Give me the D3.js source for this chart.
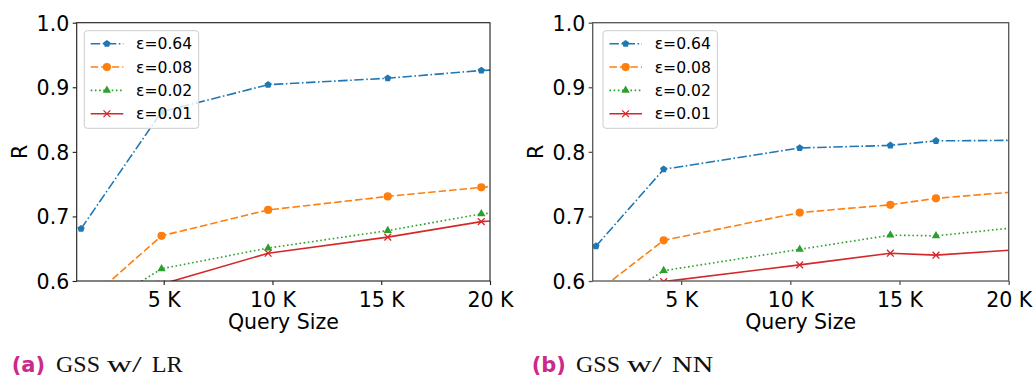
<!DOCTYPE html>
<html>
<head>
<meta charset="utf-8">
<script src="https://cdn.jsdelivr.net/npm/d3@7"></script>
<style>
  body { margin: 0; background: #fff; }
  svg { display: block; }
</style>
</head>
<body>
<svg id="fig" width="1036" height="379"></svg>
<script>
// ---- data ----
const seriesLabels = ["ε=0.64", "ε=0.08", "ε=0.02", "ε=0.01"];
const yTickValues = [0.6, 0.7, 0.8, 0.9, 1.0];
const xTickValues = [5000, 10000, 15000, 20000];
const xTickLabels = ["5 K", "10 K", "15 K", "20 K"];

// (a) GSS with logistic regression
const lrQuery   = [1200, 4900, 9800, 15300, 19600, 24000];
const lrEps064  = [0.681, 0.862, 0.904, 0.914, 0.926, 0.932];
const lrEps008  = [0.560, 0.670, 0.710, 0.731, 0.745, 0.756];
const lrEps002  = [0.541, 0.619, 0.651, 0.678, 0.704, 0.716];
const lrEps001  = [0.520, 0.595, 0.643, 0.668, 0.692, 0.703];

// (b) GSS with neural network
const nnQuery   = [1100, 4200, 10430, 14580, 16670, 21000];
const nnEps064  = [0.654, 0.773, 0.806, 0.810, 0.817, 0.818];
const nnEps008  = [0.582, 0.663, 0.706, 0.718, 0.728, 0.740];
const nnEps002  = [0.549, 0.616, 0.649, 0.671, 0.670, 0.685];
const nnEps001  = [0.530, 0.599, 0.625, 0.643, 0.640, 0.650];

// ---- styling ----
const seriesStyle = [
  { color: "#1f77b4", dash: "9.5,2.5,1.6,2.5", marker: "pentagon" },
  { color: "#ff7f0e", dash: "7.5,3",           marker: "circle" },
  { color: "#2ca02c", dash: "1.6,2.6",         marker: "triangle" },
  { color: "#d62728", dash: null,              marker: "x" }
];

const panels = [
  { id: "lr", query: lrQuery, series: [lrEps064, lrEps008, lrEps002, lrEps001],
    x0: 76.7, x1: 490, xMin: 1000, spine: "#1a1a1a", spineW: 1.1,
    tag: "(a)", tagX: 11.7, words: ["GSS", "w/", "LR"], wordX: 56, legendX: 84.3 },
  { id: "nn", query: nnQuery, series: [nnEps064, nnEps008, nnEps002, nnEps001],
    x0: 592.7, x1: 1008.7, xMin: 950, spine: "#555", spineW: 1.3,
    tag: "(b)", tagX: 531.7, words: ["GSS", "w/", "NN"], wordX: 576, legendX: 603 }
];

const plotTop = 22.7, plotBottom = 281;
const tickFont = "'DejaVu Sans', sans-serif";
const svg = d3.select("#fig");
svg.append("rect").attr("width", 1036).attr("height", 379).attr("fill", "#fff");

function drawMarker(g, type, cx, cy, color) {
  if (type === "circle") {
    g.append("circle").attr("cx", cx).attr("cy", cy).attr("r", 4.1).attr("fill", color);
  } else if (type === "pentagon") {
    const R = 3.8;
    const pts = d3.range(5).map(i => {
      const a = -Math.PI / 2 + i * 2 * Math.PI / 5;
      return [cx + R * Math.cos(a), cy + R * Math.sin(a)];
    });
    g.append("polygon").attr("points", pts.map(p => p.join(",")).join(" ")).attr("fill", color);
  } else if (type === "triangle") {
    g.append("path")
      .attr("d", d3.symbol().type(d3.symbolTriangle).size(30)())
      .attr("transform", `translate(${cx},${cy})`)
      .attr("fill", color);
  } else if (type === "x") {
    const h = 3.4;
    g.append("path")
      .attr("d", `M${cx - h},${cy - h}L${cx + h},${cy + h}M${cx - h},${cy + h}L${cx + h},${cy - h}`)
      .attr("stroke", color).attr("stroke-width", 1.3).attr("fill", "none");
  }
}

panels.forEach(p => {
  const x = d3.scaleLinear().domain([p.xMin, 20000]).range([p.x0, p.x1]);
  const y = d3.scaleLinear().domain([0.6, 1.0]).range([plotBottom, plotTop]);
  const g = svg.append("g");

  const clipId = "clip-" + p.id;
  g.append("clipPath").attr("id", clipId)
    .append("rect").attr("x", p.x0).attr("y", plotTop)
    .attr("width", p.x1 - p.x0).attr("height", plotBottom - plotTop);

  const plot = g.append("g").attr("clip-path", `url(#${clipId})`);
  const line = d3.line().x(d => x(d[0])).y(d => y(d[1]));

  // series drawn bottom-up so the top series sits above
  for (let s = p.series.length - 1; s >= 0; s--) {
    const st = seriesStyle[s];
    const pts = p.query.map((q, i) => [q, p.series[s][i]]);
    plot.append("path").datum(pts)
      .attr("d", line)
      .attr("fill", "none")
      .attr("stroke", st.color)
      .attr("stroke-width", 1.6)
      .attr("stroke-dasharray", st.dash);
    pts.forEach(d => drawMarker(plot, st.marker, x(d[0]), y(d[1]), st.color));
  }

  // axes
  const yAxis = d3.axisLeft(y).tickValues(yTickValues).tickSize(4).tickPadding(4)
    .tickFormat(d3.format(".1f"));
  const yG = g.append("g").attr("transform", `translate(${p.x0},0)`).call(yAxis);
  const xAxis = d3.axisBottom(x).tickValues(xTickValues).tickSize(4).tickPadding(5)
    .tickFormat((d, i) => xTickLabels[i]);
  const xG = g.append("g").attr("transform", `translate(0,${plotBottom})`).call(xAxis);
  [yG, xG].forEach(ax => {
    ax.select(".domain").remove();
    ax.selectAll(".tick line").attr("stroke", p.spine).attr("stroke-width", p.spineW);
    ax.selectAll(".tick text").attr("fill", "#000")
      .style("font-family", tickFont).style("font-size", "20.5px");
  });
  yG.selectAll(".tick text").attr("x", -7.5).attr("dy", null).attr("y", 7.4);
  xG.selectAll(".tick text").attr("dy", null).attr("y", 25.7);

  // frame
  g.append("rect").attr("x", p.x0).attr("y", plotTop)
    .attr("width", p.x1 - p.x0).attr("height", plotBottom - plotTop)
    .attr("fill", "none").attr("stroke", p.spine).attr("stroke-width", p.spineW);

  // axis titles
  g.append("text").attr("x", (p.x0 + p.x1) / 2).attr("y", 328.5)
    .attr("text-anchor", "middle")
    .style("font-family", tickFont).style("font-size", "20.5px")
    .text("Query Size");
  g.append("text")
    .attr("transform", `translate(${p.x0 - 50},${(plotTop + plotBottom) / 2}) rotate(-90)`)
    .attr("text-anchor", "middle")
    .style("font-family", tickFont).style("font-size", "20.5px")
    .text("R");

  // legend
  const lg = g.append("g");
  const lx = p.legendX, ly = 30.7;
  lg.append("rect").attr("x", lx).attr("y", ly).attr("width", 114.4).attr("height", 97.6)
    .attr("rx", 3).attr("fill", "#fff").attr("fill-opacity", 0.8)
    .attr("stroke", "#cccccc").attr("stroke-width", 1);
  seriesLabels.forEach((lab, i) => {
    const st = seriesStyle[i];
    const cy = 43.7 + i * 23.35;
    lg.append("line").attr("x1", lx + 6.4).attr("x2", lx + 39).attr("y1", cy).attr("y2", cy)
      .attr("stroke", st.color).attr("stroke-width", 1.6).attr("stroke-dasharray", st.dash);
    drawMarker(lg, st.marker, lx + 22.6, cy, st.color);
    lg.append("text").attr("x", lx + 51.7).attr("y", cy + 5.7)
      .style("font-family", tickFont).style("font-size", "15.6px")
      .text(lab);
  });

  // sub-caption
  g.append("text").attr("x", p.tagX).attr("y", 372)
    .attr("fill", "#cc2a8a")
    .style("font-family", tickFont).style("font-weight", "bold").style("font-size", "21px")
    .text(p.tag);
  const wordOffsets = [0, 50.7, 95.7];
  const wordWidths = [44, 35, p.words[2] === "NN" ? 41.6 : 31];
  p.words.forEach((w, i) => {
    g.append("text").attr("x", p.wordX + wordOffsets[i]).attr("y", 372)
      .attr("fill", "#111")
      .attr("textLength", wordWidths[i]).attr("lengthAdjust", "spacingAndGlyphs")
      .style("font-family", "'Liberation Serif', serif").style("font-size", "23.5px")
      .text(w);
  });
});
</script>
</body>
</html>
